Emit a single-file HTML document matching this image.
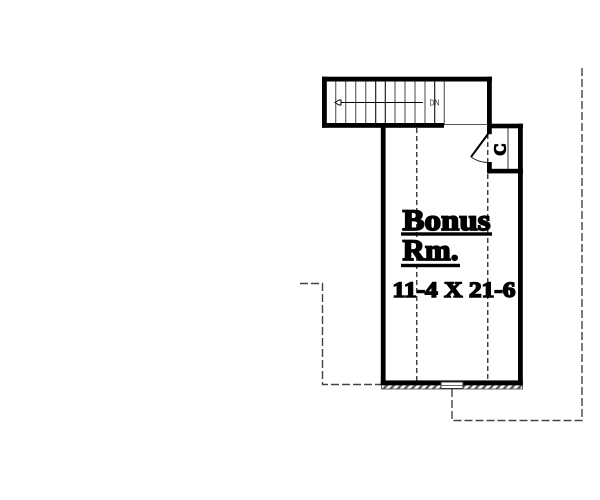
<!DOCTYPE html>
<html><head><meta charset="utf-8"><style>
html,body{margin:0;padding:0;background:#fff;width:600px;height:500px;overflow:hidden}
svg{display:block}
text{font-family:"Liberation Serif",serif;font-weight:bold;fill:#000;stroke:#000}
</style></head><body>
<svg width="600" height="500" viewBox="0 0 600 500" xmlns="http://www.w3.org/2000/svg">
<defs><pattern id="h" width="5" height="5" patternUnits="userSpaceOnUse" patternTransform="rotate(45)"><rect width="5" height="5" fill="#fff"/><rect width="2.2" height="5" fill="#555"/></pattern></defs>
<!-- outer dashed -->
<g fill="none" stroke="#444" stroke-width="1.4" stroke-dasharray="8 3">
<path d="M300 283.5H322.5V384.5H381"/>
<path d="M452 389V420.5H582V68"/>
</g>
<!-- treads -->
<g stroke="#666" stroke-width="1.2">
<path d="M335.7 81V124M345.7 81V124M355.7 81V124M365.7 81V124M405 81V124M415 81V124M425 81V124M444.3 81V124M395 81V124"/>
</g>
<g stroke="#111" stroke-width="1.1"><path d="M375.7 81V124M385.3 81V124M434.7 81V124"/></g>
<path d="M336 102.5H423" stroke="#000" stroke-width="1.1"/>
<path d="M335 102.5l4-2.5h2v5h-2z" fill="#fff" stroke="#000" stroke-width="1"/>
<text x="429.5" y="105.5" font-size="8" style="font-family:'Liberation Sans',sans-serif;font-weight:normal;fill:#333;stroke:none" textLength="10" lengthAdjust="spacingAndGlyphs">DN</text>
<path d="M444 124.5H488" stroke="#555" stroke-width="1"/>
<path d="M508 128V169" stroke="#444" stroke-width="1.1"/>
<!-- interior dashed -->
<g fill="none" stroke="#000" stroke-width="1.1" stroke-dasharray="5 3">
<path d="M416.8 128V381"/>
<path d="M487.8 134V381"/>
</g>
<!-- hatched band -->
<rect x="381.5" y="385" width="141" height="4" fill="url(#h)" stroke="#444" stroke-width="0.8"/>
<!-- walls -->
<g fill="#000">
<rect x="322" y="76.7" width="170" height="4.8"/>
<rect x="322" y="76.7" width="4.8" height="51"/>
<rect x="322" y="123" width="122" height="4.8"/>
<rect x="487" y="76.7" width="4.8" height="57.5"/>
<rect x="380.8" y="127" width="4.8" height="258"/>
<rect x="488" y="123.7" width="35" height="4.6"/>
<rect x="518" y="123.7" width="4.8" height="261.3"/>
<rect x="488" y="168.8" width="35" height="4.6"/>
<rect x="487" y="162" width="4.8" height="11.3"/>
<rect x="380.8" y="380.4" width="142" height="4.8"/>
</g>
<!-- vent -->
<rect x="441" y="382" width="22" height="6.5" fill="#fff" stroke="#333" stroke-width="1"/>
<path d="M441 385.5H463" stroke="#333" stroke-width="0.8"/>
<!-- door -->
<path d="M488 134L471 157" stroke="#000" stroke-width="2" fill="none"/>
<path d="M471 157Q478 162 487 162.5" stroke="#222" stroke-width="1" fill="none"/>
<!-- C -->
<text x="0" y="0" font-size="17" stroke-width="1.4" text-anchor="middle" transform="translate(505.5,149.5) rotate(-90)">C</text>
<!-- label -->
<text x="402.5" y="230" font-size="30" stroke-width="1.7" textLength="88" lengthAdjust="spacingAndGlyphs">Bonus</text>
<rect x="401" y="232.3" width="91" height="3.4" fill="#000"/>
<text x="402.5" y="260" font-size="30" stroke-width="1.7" textLength="56" lengthAdjust="spacingAndGlyphs">Rm.</text>
<rect x="401" y="263.8" width="59" height="3.4" fill="#000"/>
<text x="392.5" y="297" font-size="22" stroke-width="1.5" textLength="123" lengthAdjust="spacingAndGlyphs">11-4 X 21-6</text>
</svg>
</body></html>
